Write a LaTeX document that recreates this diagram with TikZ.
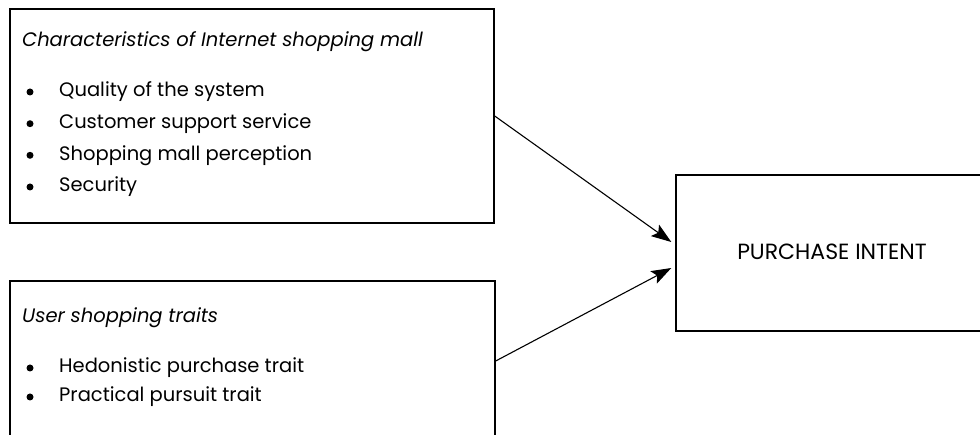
\documentclass[tikz,border=0pt]{standalone}
\usepackage{fontspec}
\setmainfont{Poppins}
\usetikzlibrary{arrows.meta,calc}
\tikzset{
  boxnode/.style={draw=black, line width=1.4pt, rectangle, inner sep=0pt},
  heading/.style={anchor=base west, inner sep=0pt, font=\fontsize{19.5}{22}\selectfont\itshape},
  itemtext/.style={anchor=base west, inner sep=0pt, font=\fontsize{19.5}{22}\selectfont},
  bulletmark/.style={circle, fill=black, inner sep=0pt, minimum size=7pt},
  linkarrow/.style={line width=1.1pt, -{Stealth[length=20pt,width=14pt,inset=4pt]}}
}
\begin{document}
\begin{tikzpicture}[x=1pt,y=-1pt]
\useasboundingbox[fill=white] (0,0) rectangle (980,435);
\begin{scope}
\clip (0,0) rectangle (980,435);
% boxes
\node[boxnode, minimum width=484pt, minimum height=214pt] (top) at (252,116) {};
\node[boxnode, minimum width=485pt, minimum height=160pt] (bot) at (252.5,361) {};
\node[boxnode, minimum width=312pt, minimum height=156pt] (pi) at (832,253) {};
\end{scope}
% top texts
\node[heading] (t0) at (22,47) {Characteristics of Internet shopping mall};
\node[bulletmark] (b1) at (30,92) {};
\node[bulletmark] (b2) at (30,123.7) {};
\node[bulletmark] (b3) at (30,155.3) {};
\node[bulletmark] (b4) at (30,187) {};
\node[itemtext] (i1) at (59,97) {Quality of the system};
\node[itemtext] (i2) at (59,128.7) {Customer support service};
\node[itemtext] (i3) at (59,160.3) {Shopping mall perception};
\node[itemtext] (i4) at (59,192) {Security};
% bottom texts
\node[heading] (u0) at (22,323) {User shopping traits};
\node[bulletmark] (c1) at (30,368) {};
\node[bulletmark] (c2) at (30,397) {};
\node[itemtext] (j1) at (59,373) {Hedonistic purchase trait};
\node[itemtext] (j2) at (59,402) {Practical pursuit trait};
% right text
\node[anchor=center, inner sep=0pt, font=\fontsize{22}{24}\selectfont] (pt) at (832,251.5) {PURCHASE INTENT};
% arrows
\coordinate (tip1) at ($(pi.west)+(-4,-11)$);
\coordinate (tip2) at ($(pi.west)+(-4,15)$);
\draw[linkarrow] (top.east) -- (tip1);
\draw[linkarrow] (bot.east) -- (tip2);
\end{tikzpicture}
\end{document}
